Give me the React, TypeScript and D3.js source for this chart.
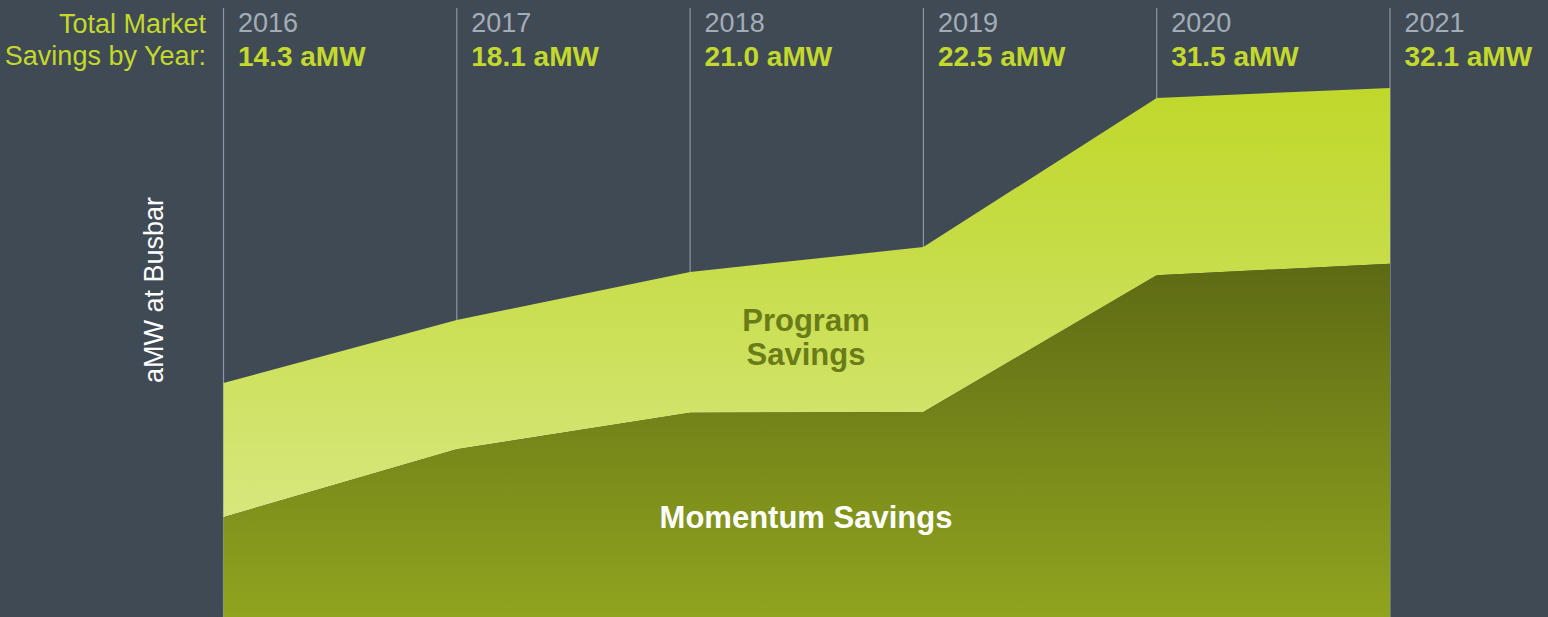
import React from "react";
import * as d3 from "d3";

const years = ["2016", "2017", "2018", "2019", "2020", "2021"];
const totalSavings = [14.3, 18.1, 21.0, 22.5, 31.5, 32.1];
const momentumSavings = [6.2, 10.3, 12.5, 12.55, 20.8, 21.5];
const totalLabels = ["14.3 aMW", "18.1 aMW", "21.0 aMW", "22.5 aMW", "31.5 aMW", "32.1 aMW"];

const W = 1548;
const H = 617;

export default function App() {
  const x = d3.scalePoint<string>().domain(years).range([223.5, 1390]);
  const y = d3.scaleLinear().domain([0, 32.1]).range([620, 88]);

  const rows = years.map((yr, i) => ({ yr, total: totalSavings[i], mom: momentumSavings[i] }));

  const momentumArea = d3
    .area<any>()
    .x((d) => x(d.yr)!)
    .y0(H + 2)
    .y1((d) => y(d.mom));
  const programArea = d3
    .area<any>()
    .x((d) => x(d.yr)!)
    .y0((d) => y(d.mom))
    .y1((d) => y(d.total));

  const font = "'Liberation Sans', Arial, sans-serif";

  return (
    <svg
      width={W}
      height={H}
      style={{ position: "absolute", left: 0, top: 0, display: "block" }}
      fontFamily={font}
    >
      <defs>
        <linearGradient id="progGrad" gradientUnits="userSpaceOnUse" x1="0" y1="88" x2="0" y2="520">
          <stop offset="0" stopColor="#c0d82b" />
          <stop offset="0.35" stopColor="#c6dc45" />
          <stop offset="1" stopColor="#d8e77e" />
        </linearGradient>
        <linearGradient id="momGrad" gradientUnits="userSpaceOnUse" x1="0" y1="263" x2="0" y2="617">
          <stop offset="0" stopColor="#5d6a14" />
          <stop offset="1" stopColor="#91a41f" />
        </linearGradient>
      </defs>
      <rect x={0} y={0} width={W} height={H} fill="#404a55" />

      {years.map((yr) => (
        <line
          key={"g" + yr}
          x1={x(yr)!}
          x2={x(yr)!}
          y1={8}
          y2={H}
          stroke="#8a96a3"
          strokeWidth={1.2}
        />
      ))}

      <path d={programArea(rows)!} fill="url(#progGrad)" />
      <path d={momentumArea(rows)!} fill="url(#momGrad)" />

      {years.map((yr, i) => (
        <g key={"t" + yr}>
          <text x={x(yr)! + 14.5} y={32} fontSize={27} fill="#a3adb8">
            {yr}
          </text>
          <text x={x(yr)! + 14.5} y={65.5} fontSize={28} fontWeight="bold" fill="#c3d92c">
            {totalLabels[i]}
          </text>
        </g>
      ))}

      <text x={206} y={32.5} fontSize={27} fill="#c3d92c" textAnchor="end">
        Total Market
      </text>
      <text x={206} y={65} fontSize={27} fill="#c3d92c" textAnchor="end">
        Savings by Year:
      </text>

      <text
        transform="translate(163,290) rotate(-90)"
        fontSize={27}
        fill="#ffffff"
        textAnchor="middle"
      >
        aMW at Busbar
      </text>

      <text x={806} y={331} fontSize={31} fontWeight="bold" fill="#6a7c17" textAnchor="middle">
        Program
      </text>
      <text x={806} y={365} fontSize={31} fontWeight="bold" fill="#6a7c17" textAnchor="middle">
        Savings
      </text>
      <text x={806} y={528} fontSize={31} fontWeight="bold" fill="#ffffff" textAnchor="middle">
        Momentum Savings
      </text>
    </svg>
  );
}
